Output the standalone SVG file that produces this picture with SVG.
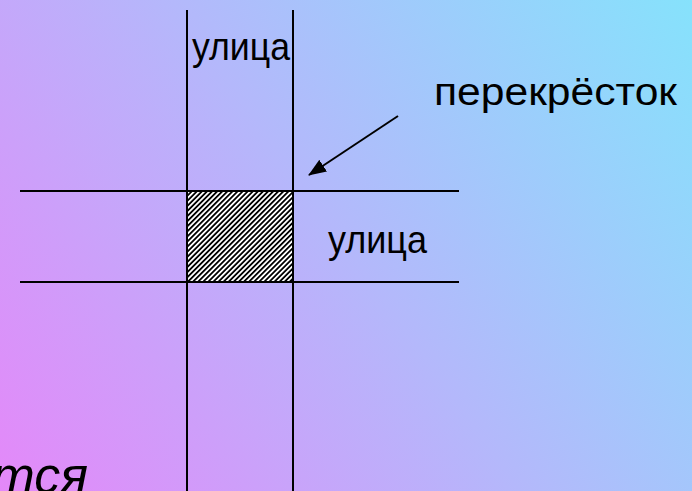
<svg xmlns="http://www.w3.org/2000/svg" width="692" height="491" viewBox="0 0 692 491">
  <defs>
    <linearGradient id="bg" x1="0" y1="491" x2="692" y2="0" gradientUnits="userSpaceOnUse">
      <stop offset="0" stop-color="#e488f9"/>
      <stop offset="0.5" stop-color="#b4b8fb"/>
      <stop offset="1" stop-color="#86e2fc"/>
    </linearGradient>
    <pattern id="hatch" patternUnits="userSpaceOnUse" width="3.6" height="3.6" patternTransform="rotate(45)">
      <rect width="3.6" height="3.6" fill="#ffffff"/>
      <rect width="1.8" height="3.6" fill="#000000"/>
    </pattern>
    <marker id="arrowhead" markerWidth="9" markerHeight="7" refX="8.5" refY="3.5" orient="auto" markerUnits="strokeWidth">
      <path d="M0,0 L9,3.5 L0,7 Z" fill="#000"/>
    </marker>
    <style>
      .road { stroke: #000; stroke-width: 2; fill: none; }
      .lbl { font-family: "Liberation Sans", Arial, sans-serif; font-size: 39px; fill: #000; }
    </style>
  </defs>
  <rect x="0" y="0" width="692" height="491" fill="url(#bg)"/>
  <g id="crossing">
    <rect x="187" y="191" width="106" height="91" fill="url(#hatch)"/>
  </g>
  <g id="roads">
    <line class="road" x1="187" y1="10" x2="187" y2="491"/>
    <line class="road" x1="293" y1="10" x2="293" y2="491"/>
    <line class="road" x1="20" y1="191" x2="459" y2="191"/>
    <line class="road" x1="20" y1="282" x2="459" y2="282"/>
  </g>
  <g id="connectors">
    <line x1="398" y1="116" x2="309" y2="175" stroke="#000" stroke-width="2" marker-end="url(#arrowhead)"/>
  </g>
  <g id="labels">
    <text class="lbl" x="192" y="60" textLength="98" lengthAdjust="spacingAndGlyphs">улица</text>
    <text class="lbl" x="328" y="253" textLength="99" lengthAdjust="spacingAndGlyphs">улица</text>
    <text class="lbl" x="434" y="105" textLength="243" lengthAdjust="spacingAndGlyphs">перекрёсток</text>
    <text class="lbl" x="88" y="493" text-anchor="end" font-style="italic" style="font-size:52px">тся</text>
  </g>
</svg>
